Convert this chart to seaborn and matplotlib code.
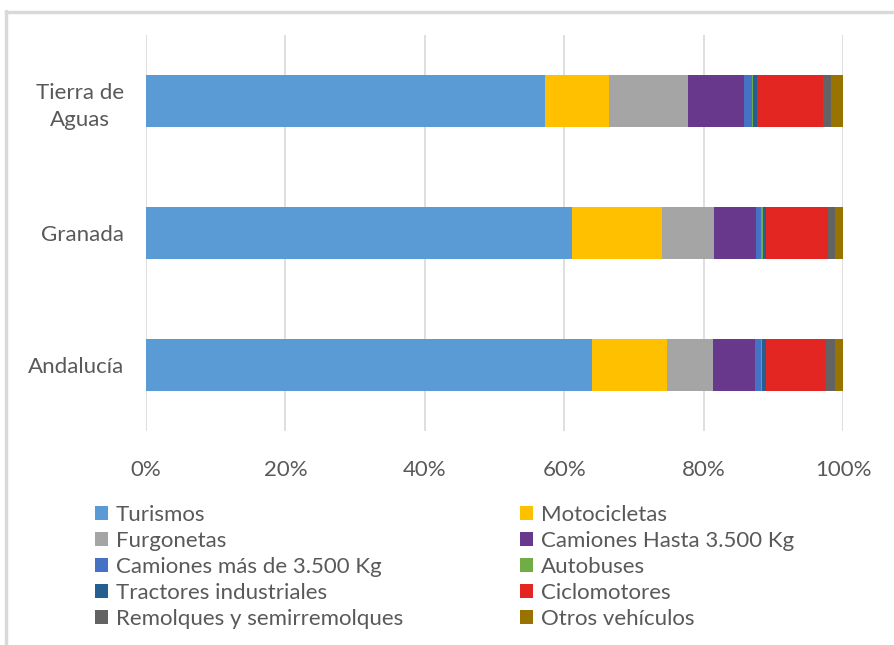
import pandas as pd
import matplotlib.pyplot as plt
import seaborn as sns
from matplotlib.patches import Patch
from matplotlib.lines import Line2D

# Data (percent of vehicle fleet)
regions = ['Tierra de\nAguas', 'Granada', 'Andalucía']
categories = ['Turismos', 'Motocicletas', 'Furgonetas', 'Camiones Hasta 3.500 Kg',
              'Camiones más de 3.500 Kg', 'Autobuses', 'Tractores industriales',
              'Ciclomotores', 'Remolques y semirremolques', 'Otros vehículos']
tierra = [57.2, 9.2, 11.3, 8.1, 1.2, 0.1, 0.5, 9.6, 1.1, 1.7]
granada = [61.1, 12.9, 7.5, 6.0, 0.8, 0.2, 0.5, 8.9, 1.0, 1.1]
andalucia = [64.0, 10.8, 6.5, 6.1, 0.9, 0.1, 0.5, 8.7, 1.2, 1.2]
colors = ['#5B9BD5', '#FFC000', '#A5A5A5', '#68388D', '#4472C4',
          '#70AD47', '#255E91', '#E42622', '#636363', '#997300']

df = pd.DataFrame({'Tierra de\nAguas': tierra, 'Granada': granada, 'Andalucía': andalucia},
                  index=categories)
cum = df.cumsum()
cum = cum.div(cum.iloc[-1], axis=1) * 100

sns.set_style('white')
plt.rcParams['font.family'] = ['Lato', 'DejaVu Sans']
txt = '#595959'
fs = 16

fig = plt.figure(figsize=(8.94, 6.45), dpi=100)
ax = fig.add_axes([146 / 894, 1 - 431 / 645, 697 / 894, 396 / 645])

# stacked bars: draw cumulative totals from the back
for i in range(len(categories) - 1, -1, -1):
    long = pd.DataFrame({'region': regions, 'value': cum.iloc[i][regions].values})
    sns.barplot(data=long, x='value', y='region', order=regions, color=colors[i],
                orient='h', width=0.4, saturation=1, linewidth=0, ax=ax)

ax.set_xlim(0, 100)
ax.set_ylim(2.5, -0.5)
ax.set_xticks(range(0, 101, 20))
ax.set_xticklabels([f'{v}%' for v in range(0, 101, 20)])
ax.grid(axis='x', color='#D9D9D9', linewidth=1.2)
ax.set_axisbelow(True)
for s in ax.spines.values():
    s.set_visible(False)
ax.set_xlabel('')
ax.set_ylabel('')
ax.tick_params(axis='x', length=0, pad=21, labelsize=fs, labelcolor=txt)
ax.tick_params(axis='y', length=0, pad=16, labelsize=fs, labelcolor=txt)
for lab in ax.get_yticklabels():
    lab.set_multialignment('center')
    lab.set_linespacing(1.45)

handles = [Patch(facecolor=c, edgecolor='none') for c in colors]
left_idx = [0, 2, 4, 6, 8]
right_idx = [1, 3, 5, 7, 9]
for idx, xpos in [(left_idx, 86 / 894), (right_idx, 511 / 894)]:
    fig.legend([handles[i] for i in idx], [categories[i] for i in idx],
               loc='upper left', bbox_to_anchor=(xpos, 1 - 496 / 645), frameon=False,
               fontsize=fs, labelcolor=txt, handlelength=0.6, handleheight=0.6,
               handletextpad=0.35, labelspacing=0.27, borderaxespad=0)

# outer frame of the figure
frame = '#D9D9D9'
fig.add_artist(Line2D([6 / 894, 6 / 894], [0, 1 - 11 / 645], color=frame, lw=2.5))
fig.add_artist(Line2D([6 / 894, 1], [1 - 12 / 645, 1 - 12 / 645], color=frame, lw=2.5))

fig.savefig('out.png', dpi=100)
